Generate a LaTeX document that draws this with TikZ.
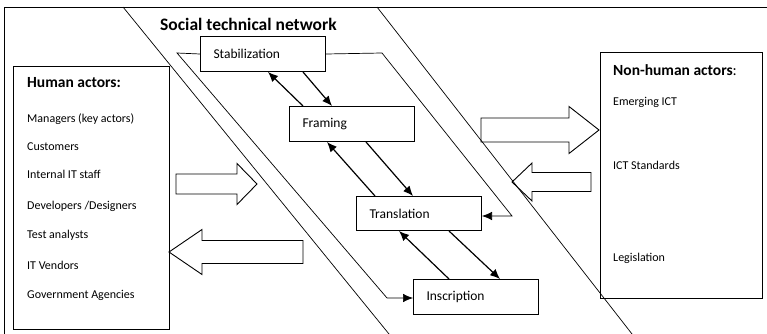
\documentclass[tikz,border=0pt]{standalone}
\usepackage{fontspec}
\setmainfont{Carlito}
\usetikzlibrary{arrows.meta}

\tikzset{
    stagebox/.style={draw, line width=1pt, anchor=north west, minimum width=125pt, minimum height=35pt,
        text width=99pt, inner xsep=13pt, inner ysep=0pt, align=left, font=\fontsize{13.5}{15}\selectfont},
    actorbox/.style={draw, line width=1pt, anchor=north west, inner sep=0pt},
    item/.style={anchor=base west, inner sep=0pt, font=\fontsize{12}{14}\selectfont},
    heading/.style={anchor=base west, inner sep=0pt, font=\fontsize{15.5}{18}\selectfont},
    flowtip/.style={-{Latex[length=10pt,width=8.5pt]}},
    flow/.style={flowtip, line width=1.2pt},
    band/.style={line width=0.7pt},
    blockarrow/.style={draw, line width=0.9pt, line join=miter},
}

\begin{document}
\begin{tikzpicture}[x=1pt, y=-1pt]
    \useasboundingbox (0,0) rectangle (767,334);

    % frame and network band
    \draw[line width=0.9pt] (767,7) -- (4,7) -- (4,334);
    \draw[band] (123,7) -- (389,334);
    \draw[band] (377,7) -- (632,334);
    \node[anchor=base west, inner sep=0pt, font=\fontsize{17.5}{20}\selectfont\bfseries] (title) at (160,31) {Social technical network};

    % stages
    \node[stagebox] (Stabilization) at (200,36) {Stabilization};
    \node[stagebox] (Framing) at (289,106) {Framing};
    \node[stagebox, minimum height=34pt] (Translation) at (356,196) {Translation};
    \node[stagebox] (Inscription) at (413,279) {Inscription};

    \coordinate (inTL) at (177,53);
    \coordinate (inBL) at (387,298);
    \coordinate (inTR) at (382,53);
    \coordinate (inBR) at (512,216);
    \draw[band, flowtip] (Stabilization.west) -- (inTL) -- (inBL) -- (inBL -| Inscription.west);
    \draw[band, flowtip] (Stabilization.east) -- (inTR) -- (inBR) -- (inBR -| Translation.east);

    \foreach \a/\b/\u/\v/\p/\q in {Stabilization/Framing/68/14/103/43,
                                   Framing/Translation/38/19/77/57,
                                   Translation/Inscription/43/36/93/87} {
            \draw[flow] ([xshift=\v pt]\b.north west) -- ([xshift=\u pt]\a.south west);
            \draw[flow] ([xshift=\p pt]\a.south west) -- ([xshift=\q pt]\b.north west);
        }

    % actors
    \node[actorbox, minimum width=156pt, minimum height=263pt] (human) at (13,66) {};
    \node[heading] (humanhead) at (27,88) {\bfseries Human actors:};
    \foreach \t/\y in {Managers (key actors)/122, Customers/150, Internal IT staff/178,
                       {Developers /Designers}/209, Test analysts/238, IT Vendors/269,
                       Government Agencies/298} {
            \node[item] at (27,\y) {\t};
        }

    \node[actorbox, minimum width=162pt, minimum height=246pt] (nonhuman) at (600,52) {};
    \node[heading] (nonhumanhead) at (613,76) {{\bfseries Non-human actors}:};
    \foreach \t/\y in {Emerging ICT/106, ICT Standards/169, Legislation/261} {
            \node[item] at (613,\y) {\t};
        }

    % block arrows: tip x/tip y/direction/head length/length/shaft half/head half
    \foreach \x/\y/\d/\h/\l/\s/\w in {257/184/-1/20/81/10/20.5,
                                      169/252/1/33/134/11.5/22.5,
                                      599/130/-1/30/118/12/23.5,
                                      512/182/1/20/79/9.5/19} {
            \pgfmathsetmacro{\hx}{\x+\d*\h}
            \pgfmathsetmacro{\lx}{\x+\d*\l}
            \draw[blockarrow] (\x,\y) -- (\hx,\y-\w) -- (\hx,\y-\s) -- (\lx,\y-\s)
                -- (\lx,\y+\s) -- (\hx,\y+\s) -- (\hx,\y+\w) -- cycle;
        }
\end{tikzpicture}
\end{document}
